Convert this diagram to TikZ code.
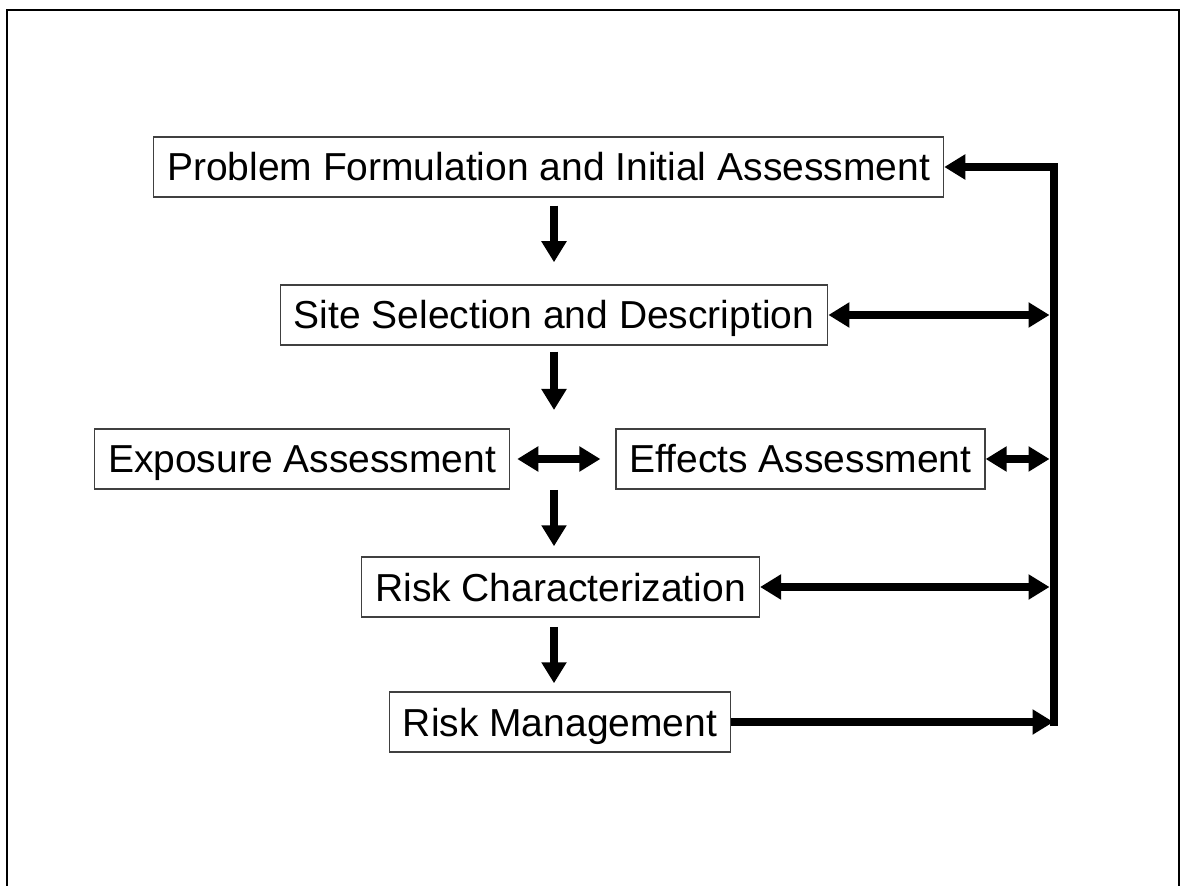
\documentclass[tikz,border=0pt]{standalone}
\usepackage{fontspec}
\setmainfont{Liberation Sans}
\usetikzlibrary{arrows.meta}
\tikzset{
    stage/.style={draw=black!75, line width=0.75pt, fill=white, inner xsep=6.75pt, inner ysep=0pt,
        minimum height=30pt, text height=14pt, text depth=0pt, font=\fontsize{19.5}{23}\selectfont},
    flow/.style={line width=4pt, -{Triangle[length=10.5pt,width=12pt]}},
    both/.style={line width=4pt, {Triangle[length=10.5pt,width=12pt]}-{Triangle[length=10.5pt,width=12pt]}}
}
\begin{document}
\begin{tikzpicture}[x=0.5pt, y=-0.5pt]
                \useasboundingbox (0,0) rectangle (1181,886);
                \draw[line width=1.25pt] (7,886) -- (7,10) -- (1179,10) -- (1179,886);
                \node[stage] (prob) at (548.5,167) {Problem Formulation and Initial Assessment};
                \node[stage] (site) at (554,315) {Site Selection and Description};
                \node[stage] (expo) at (302,459) {Exposure Assessment};
                \node[stage] (effe) at (800.5,459) {Effects Assessment};
                \node[stage] (riskc) at (560.5,587) {Risk Characterization};
                \node[stage] (riskm) at (560,722) {Risk Management};
                \coordinate (col) at (554,0);
                \coordinate (mid) at (554,459);
                \coordinate (bartop) at (1053.5,167);
                \coordinate (barbot) at (1053.5,726);
                % main sequence
                \draw[flow, shorten <=4pt, shorten >=11pt] (prob.south -| col) -- (site.north -| col);
                \draw[flow, shorten <=3pt, shorten >=24.5pt] (site.south -| col) -- (mid);
                \draw[both, shorten <=3.5pt, shorten >=7.5pt] (expo.east) -- (effe.west);
                \draw[flow, shorten <=15.5pt, shorten >=5pt] (mid) -- (riskc.north -| col);
                \draw[flow, shorten <=4.5pt, shorten >=4pt] (riskc.south -| col) -- (riskm.north -| col);
                % feedback bar
                \draw[flow] (barbot) -- (bartop) -- (prob.east);
                \foreach \n in {site, effe, riskc}{
                    \draw[both, shorten >=2pt] (\n.east) -- (\n.east -| bartop);
                }
                \draw[flow] (riskm.east) -- (riskm.east -| bartop);
            \end{tikzpicture}
\end{document}
